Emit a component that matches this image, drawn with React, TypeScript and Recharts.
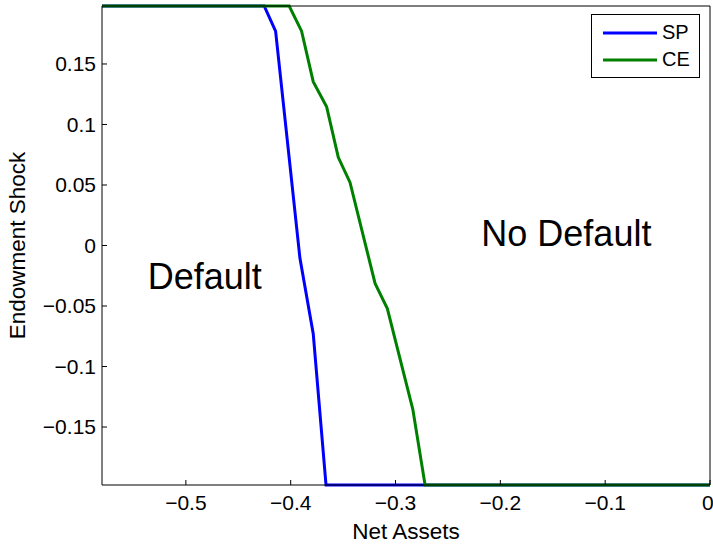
import React from 'react';
import { LineChart, Line, XAxis, YAxis, Legend, ReferenceDot } from 'recharts';

const spX = [-0.58, -0.4253, -0.4144, -0.3912, -0.3785, -0.3663, 0];
const spY = [0.1979, 0.1979, 0.1771, -0.0104, -0.0729, -0.1979, -0.1979];
const ceX = [-0.58, -0.4014, -0.3896, -0.3785, -0.3657, -0.3546, -0.3434, -0.3195, -0.3078, -0.2835, -0.2718, 0];
const ceY = [0.1979, 0.1979, 0.1771, 0.1354, 0.1146, 0.0729, 0.0521, -0.0313, -0.0521, -0.1354, -0.1979, -0.1979];

const xTicks = [-0.5, -0.4, -0.3, -0.2, -0.1, 0];
const yTicks = [-0.15, -0.1, -0.05, 0, 0.05, 0.1, 0.15];
const xDomain = [-0.58, 0];
const yDomain = [-0.1979, 0.1979];
const seriesNames = ['SP', 'CE'];
const seriesColors = ['#0000ff', '#008000'];
const annotationX = [-0.482, -0.137];
const annotationY = [-0.025, 0.01];
const annotationText = ['Default', 'No Default'];

const FONT = '"Liberation Sans", Arial, Helvetica, sans-serif';

const spData = spX.map((x, i) => ({ x, y: spY[i] }));
const ceData = ceX.map((x, i) => ({ x, y: ceY[i] }));

const fmt = (v: number) => (v === 0 ? '0' : (v < 0 ? '\u2212' : '') + String(Math.abs(v)));

const LegendBox = () => (
  <div
    style={{
      border: '1px solid #000',
      background: '#fff',
      width: 109,
      height: 64,
      boxSizing: 'border-box',
      fontFamily: FONT,
      fontSize: 20,
      paddingTop: 4,
      color: '#000',
    }}
  >
    {seriesNames.map((n, i) => (
      <div key={n} style={{ display: 'flex', alignItems: 'center', height: 27 }}>
        <svg width={54} height={4} style={{ marginLeft: 11 }}>
          <line x1={0} y1={2} x2={54} y2={2} stroke={seriesColors[i]} strokeWidth={3} />
        </svg>
        <span style={{ marginLeft: 5 }}>{n}</span>
      </div>
    ))}
  </div>
);

export default function App() {
  const tickStyle = { fontSize: 21, fill: '#000', fontFamily: FONT };
  return (
    <div style={{ position: 'absolute', left: 0, top: 0, background: '#fff' }}>
      <LineChart width={713} height={544} margin={{ top: 0, right: 0, bottom: 0, left: 0 }}>
        <XAxis
          dataKey="x"
          type="number"
          domain={xDomain}
          ticks={xTicks}
          tickFormatter={fmt}
          tickSize={-5}
          tickMargin={15}
          height={59}
          stroke="#000"
          tick={tickStyle}
          label={{ value: 'Net Assets', position: 'insideBottom', offset: 5, fontSize: 22.5, fill: '#000', fontFamily: FONT }}
        />
        <XAxis
          xAxisId="top"
          orientation="top"
          type="number"
          domain={xDomain}
          ticks={xTicks}
          tickSize={-5}
          height={6}
          stroke="#000"
          tick={false}
        />
        <YAxis
          type="number"
          domain={yDomain}
          ticks={yTicks}
          tickFormatter={fmt}
          tickSize={-5}
          tickMargin={11}
          width={102}
          stroke="#000"
          tick={tickStyle}
          label={{
            value: 'Endowment Shock',
            angle: -90,
            position: 'insideLeft',
            offset: 17,
            fontSize: 22.5,
            fill: '#000',
            fontFamily: FONT,
            style: { textAnchor: 'middle' },
          }}
        />
        <YAxis
          yAxisId="right"
          orientation="right"
          type="number"
          domain={yDomain}
          ticks={yTicks}
          tickSize={-5}
          width={3}
          stroke="#000"
          tick={false}
        />
        <Line data={spData} dataKey="y" name="SP" stroke={seriesColors[0]} strokeWidth={3} dot={false} isAnimationActive={false} />
        <Line data={ceData} dataKey="y" name="CE" stroke={seriesColors[1]} strokeWidth={3} dot={false} isAnimationActive={false} />
        {annotationText.map((t, i) => (
          <ReferenceDot
            key={t}
            x={annotationX[i]}
            y={annotationY[i]}
            r={1}
            fill="none"
            stroke="none"
            label={{ value: t, position: 'center', fontSize: 36, fill: '#000', fontFamily: FONT }}
          />
        ))}
        <Legend
          layout="horizontal"
          verticalAlign="middle"
          align="center"
          content={LegendBox}
          wrapperStyle={{ left: 591, top: 14, width: 109, height: 64 }}
        />
      </LineChart>
    </div>
  );
}
